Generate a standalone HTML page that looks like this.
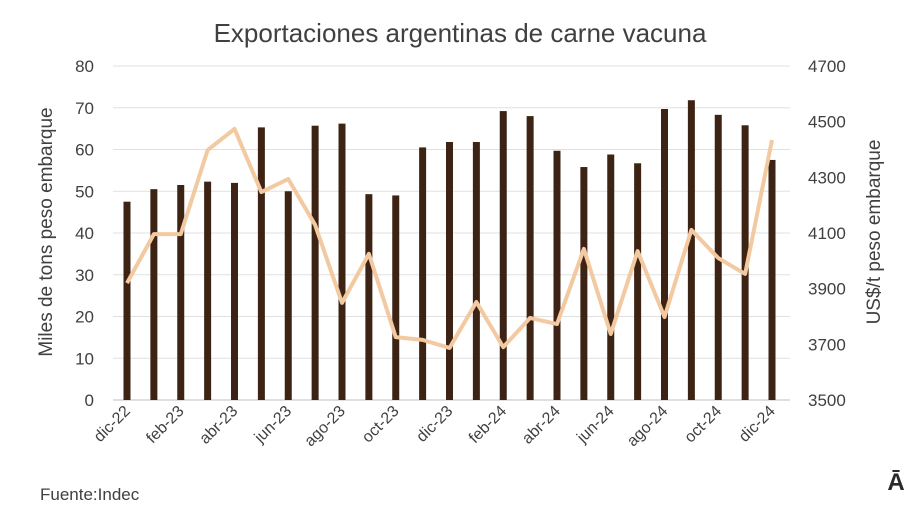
<!DOCTYPE html>
<html><head><meta charset="utf-8"><style>
body{margin:0;background:#fff;font-family:"Liberation Sans",sans-serif;}
svg text{font-family:"Liberation Sans",sans-serif;fill:#404040;}
</style></head><body>
<svg width="920" height="513" viewBox="0 0 920 513">
<rect width="920" height="513" fill="#fff"/>
<text x="460" y="42" text-anchor="middle" font-size="26">Exportaciones argentinas de carne vacuna</text>
<g id="grid"></g><g id="bars"></g><g id="line"></g><g id="axes"></g>
<text transform="translate(52,232) rotate(-90)" text-anchor="middle" font-size="19">Miles de tons peso embarque</text>
<text transform="translate(880,232) rotate(-90)" text-anchor="middle" font-size="19">US$/t peso embarque</text>
<text x="40" y="500" font-size="17">Fuente:Indec</text>
<text x="896" y="490" text-anchor="middle" font-size="24" font-weight="bold" style="fill:#2a2a2a">Ā</text>
</svg>
<script>
const months=["dic-22","ene-23","feb-23","mar-23","abr-23","may-23","jun-23","jul-23","ago-23","sep-23","oct-23","nov-23","dic-23","ene-24","feb-24","mar-24","abr-24","may-24","jun-24","jul-24","ago-24","sep-24","oct-24","nov-24","dic-24"];
const volumes=[47.5,50.5,51.5,52.3,52,65.3,50,65.7,66.2,49.3,49,60.5,61.8,61.8,69.2,68,59.7,55.8,58.8,56.7,69.7,71.8,68.3,65.8,57.5];
const prices=[3920,4096,4096,4398,4474,4247,4294,4129,3849,4025,3726,3716,3687,3852,3690,3795,3773,4043,3737,4035,3798,4111,4010,3953,4434];
const leftTicks=[0,10,20,30,40,50,60,70,80];
const rightTicks=[3500,3700,3900,4100,4300,4500,4700];
const NS="http://www.w3.org/2000/svg";
const yTop=66,yBot=400,x0=127,step=(772-127)/24;
const yL=v=>yBot-(v/80)*(yBot-yTop);
const yR=v=>yBot-((v-3500)/1200)*(yBot-yTop);
const xM=i=>x0+i*step;
function mk(t,a,p){const e=document.createElementNS(NS,t);for(const k in a)e.setAttribute(k,a[k]);p.appendChild(e);return e;}
const gG=document.getElementById('grid'),gB=document.getElementById('bars'),gL=document.getElementById('line'),gA=document.getElementById('axes');
leftTicks.forEach(v=>{
 const ln=mk('line',{x1:113,x2:790,y1:yL(v),y2:yL(v),stroke:v===0?'#bfbfbf':'#e0e0e0','stroke-width':1},gG);
 
 
 const t=mk('text',{x:94,y:yL(v)+6,'text-anchor':'end','font-size':17},gA);t.textContent=v;
 
 
});
rightTicks.forEach(v=>{
 const t=mk('text',{x:808,y:yR(v)+6,'font-size':17},gA);t.textContent=v;
 
 
});
volumes.forEach((v,i)=>{
 const r=mk('rect',{x:xM(i)-3.5,y:yL(v),width:7,height:yBot-yL(v),fill:'#3d2314'},gB);
 
 
});
const pl=mk('polyline',{points:prices.map((v,i)=>xM(i)+','+yR(v)).join(' '),fill:'none',stroke:'#f2c9a0','stroke-width':4,'stroke-linejoin':'round'},gL);


months.forEach((m,i)=>{
 if(i%2)return;
 const x=xM(i)+4,y=412;
 const t=mk('text',{x:x,y:y,'text-anchor':'end','font-size':16,transform:`rotate(-45 ${x} ${y})`},gA);t.textContent=m;
 
 
});
</script>
</body></html>
